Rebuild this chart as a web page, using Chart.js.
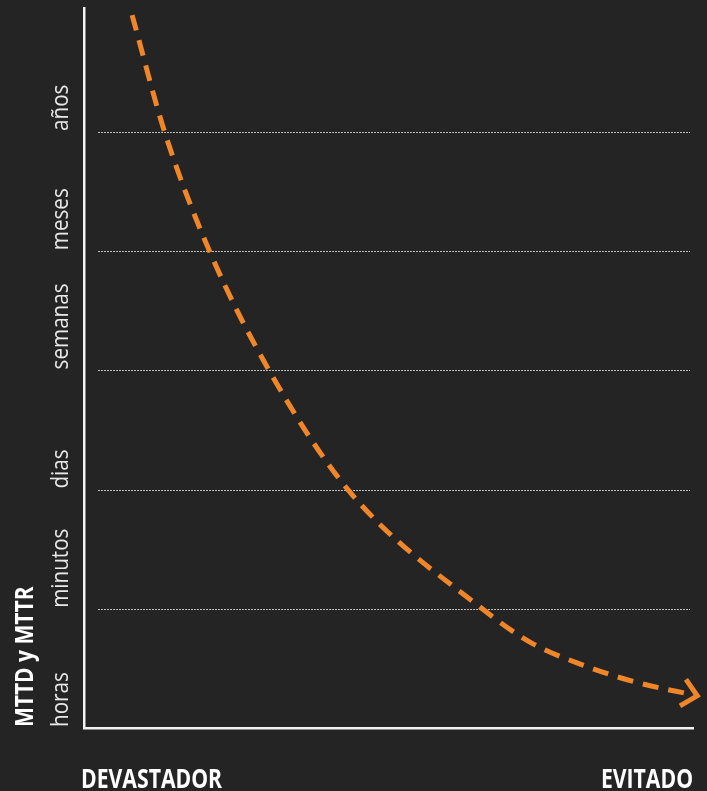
<!DOCTYPE html>
<html>
<head>
<meta charset="utf-8">
<script src="https://cdn.jsdelivr.net/npm/chart.js@4.4.0/dist/chart.umd.min.js"></script>
<style>
  html, body { margin: 0; padding: 0; background: #242424; }
  #wrap { width: 707px; height: 791px; }
</style>
</head>
<body>
<div id="wrap"><canvas id="grafico" width="707" height="791"></canvas></div>
<script>
// datos
const extremos = ['DEVASTADOR', 'EVITADO'];
const tiempos = ['horas', 'minutos', 'dias', 'semanas', 'meses', 'años'];
const nivelesTiempo = [0, 1, 2, 3, 4, 5];
const lineasGuia = [1, 2, 3, 4, 5];
const tituloY = 'MTTD y MTTR';
const curvaX = [7.9, 13.3, 20.7, 30.5, 43.5, 65.4, 73.6, 81.8, 90.2, 100.7];
const curvaY = [5.98, 4.99, 3.99, 2.99, 1.99, 1.0, 0.71, 0.53, 0.39, 0.27];

const FUENTE = "'Open Sans', sans-serif";
const NARANJA = '#f0862a';

// texto estrecho (la fuente original es condensada)
const textoEstrecho = (ctx, txt, x, y, factor) => {
    const w = ctx.measureText(txt).width;
    ctx.fillText(txt, x, y, w * factor);
};

// lineas punteadas y textos
const decorado = {
    id: 'decorado',
    beforeDatasetsDraw(chart) {
        const { ctx, chartArea } = chart;
        const y = chart.scales.y;
        ctx.save();
        ctx.strokeStyle = '#bdbdbd';
        ctx.lineWidth = 1;
        ctx.setLineDash([2, 1]);
        lineasGuia.forEach(v => {
            const py = Math.round(y.getPixelForValue(v)) + 0.5;
            ctx.beginPath();
            ctx.moveTo(chartArea.left + 14, py);
            ctx.lineTo(chartArea.right - 3, py);
            ctx.stroke();
        });
        ctx.restore();
    },
    afterDraw(chart) {
        const { ctx, chartArea } = chart;
        const y = chart.scales.y;
        ctx.save();
        ctx.fillStyle = '#e8e8e8';
        ctx.font = `24px ${FUENTE}`;
        ctx.textBaseline = 'alphabetic';
        ctx.textAlign = 'left';
        tiempos.forEach((t, i) => {
            const py = y.getPixelForValue(nivelesTiempo[i]) - 1;
            ctx.save();
            ctx.translate(68, py);
            ctx.rotate(-Math.PI / 2);
            textoEstrecho(ctx, t, 0, 0, 0.86);
            ctx.restore();
        });
        // titulo eje Y
        ctx.fillStyle = '#ffffff';
        ctx.font = `bold 25px ${FUENTE}`;
        ctx.save();
        ctx.translate(33, chartArea.bottom - 1);
        ctx.rotate(-Math.PI / 2);
        textoEstrecho(ctx, tituloY, 0, 0, 0.84);
        ctx.restore();
        // extremos eje X
        ctx.font = `bold 27px ${FUENTE}`;
        ctx.textAlign = 'left';
        textoEstrecho(ctx, extremos[0], 81, 788, 0.785);
        ctx.textAlign = 'right';
        textoEstrecho(ctx, extremos[1], chartArea.right, 788, 0.785);
        ctx.restore();
    }
};

// punta de flecha al final de la curva
const flecha = {
    id: 'flecha',
    afterDatasetsDraw(chart) {
        const pts = chart.getDatasetMeta(0).data;
        const fin = pts[pts.length - 1];
        const prev = pts[pts.length - 2];
        const cp = fin.cp1x !== undefined ? { x: fin.cp1x, y: fin.cp1y } : prev;
        const ang = Math.atan2(fin.y - cp.y, fin.x - cp.x);
        const largo = 20, abre = 0.75;
        const { ctx } = chart;
        ctx.save();
        ctx.strokeStyle = NARANJA;
        ctx.lineWidth = 5;
        ctx.lineCap = 'butt';
        ctx.lineJoin = 'miter';
        ctx.beginPath();
        ctx.moveTo(fin.x - largo * Math.cos(ang - abre), fin.y - largo * Math.sin(ang - abre));
        ctx.lineTo(fin.x, fin.y);
        ctx.lineTo(fin.x - largo * Math.cos(ang + abre), fin.y - largo * Math.sin(ang + abre));
        ctx.stroke();
        ctx.restore();
    }
};

new Chart(document.getElementById('grafico'), {
    type: 'line',
    data: {
        datasets: [{
            data: curvaX.map((x, i) => ({ x, y: curvaY[i] })),
            borderColor: NARANJA,
            borderWidth: 5,
            borderDash: [16, 10],
            cubicInterpolationMode: 'monotone',
            pointRadius: 0,
            fill: false,
            clip: false
        }]
    },
    options: {
        responsive: false,
        animation: false,
        devicePixelRatio: 1,
        layout: { padding: { left: 84, right: 14, top: 8, bottom: 63 } },
        plugins: { legend: { display: false }, tooltip: { enabled: false } },
        scales: {
            x: {
                type: 'linear',
                min: 0,
                max: 100,
                ticks: { display: false },
                grid: { display: false, drawTicks: false },
                border: { display: true, color: '#f2f2f2', width: 2.5 }
            },
            y: {
                min: 0,
                max: 6.04,
                ticks: { display: false },
                grid: { display: false, drawTicks: false },
                border: { display: true, color: '#f2f2f2', width: 2.5 }
            }
        }
    },
    plugins: [decorado, flecha]
});
</script>
</body>
</html>
